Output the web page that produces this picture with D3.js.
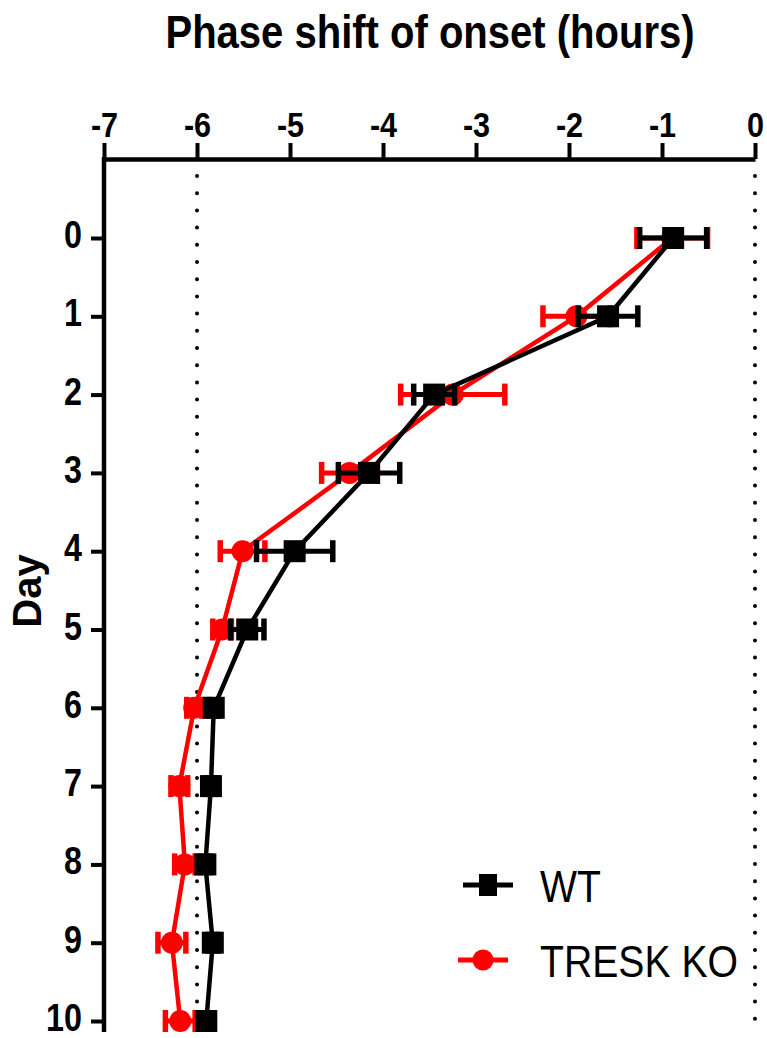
<!DOCTYPE html>
<html>
<head>
<meta charset="utf-8">
<script src="https://cdn.jsdelivr.net/npm/d3@7"></script>
<style>
  body { margin: 0; background: #fff; }
  text { font-family: "Liberation Sans", Arial, sans-serif; }
</style>
</head>
<body>
<div id="chart"></div>
<script>
// days on the vertical axis
const days = [0, 1, 2, 3, 4, 5, 6, 7, 8, 9, 10];
// mean phase shift (hours) and SEM
const wtMean = [-0.88, -1.58, -3.45, -4.15, -4.95, -5.46, -5.82, -5.85, -5.91, -5.83, -5.9];
const wtSem = [0.36, 0.32, 0.22, 0.33, 0.41, 0.18, 0.05, 0.05, 0.05, 0.05, 0.05];
const koMean = [-0.89, -1.92, -3.25, -4.36, -5.51, -5.73, -6.03, -6.19, -6.13, -6.27, -6.18];
const koSem = [0.38, 0.36, 0.56, 0.3, 0.24, 0.1, 0.08, 0.09, 0.11, 0.15, 0.16];
const xTicks = [-7, -6, -5, -4, -3, -2, -1, 0];
const refLines = [-6, 0];

const W = 767, H = 1038;
const axisTop = 159, axisLeft = 104, bottom = 1032;

const svg = d3
  .select("#chart")
  .append("svg")
  .attr("width", W)
  .attr("height", H);

const x = d3.scaleLinear().domain([-7, 0]).range([axisLeft, 755]);
const y = d3.scaleLinear().domain([0, 10]).range([238, 1021]);

// dotted reference lines
svg
  .selectAll(".ref")
  .data(refLines)
  .join("line")
  .attr("x1", (d) => x(d))
  .attr("x2", (d) => x(d))
  .attr("y1", axisTop + 17)
  .attr("y2", bottom)
  .attr("stroke", "black")
  .attr("stroke-width", 4)
  .attr("stroke-linecap", "round")
  .attr("stroke-dasharray", "0 17.2");

// top axis (plain hyphen minus, like the original)
const xAxis = svg
  .append("g")
  .attr("transform", `translate(0,${axisTop})`)
  .call(
    d3.axisTop(x).tickValues(xTicks).tickFormat((d) => String(d))
      .tickSize(16).tickSizeOuter(0).tickPadding(6)
  );

// left axis
const yAxis = svg
  .append("g")
  .attr("transform", `translate(${axisLeft},0)`)
  .call(d3.axisLeft(y).tickValues(days).tickSize(13).tickSizeOuter(0).tickPadding(9));

[xAxis, yAxis].forEach((g) => {
  g.select(".domain").attr("stroke-width", 4.5);
  g.selectAll(".tick line").attr("stroke-width", 4);
  g.selectAll(".tick text")
    .style("font-weight", "bold")
    .attr("fill", "black");
});
// narrow bold figures
xAxis.selectAll(".tick text")
  .style("font-size", "36px")
  .attr("transform", "scale(0.85,1)");
yAxis.selectAll(".tick text")
  .style("font-size", "38px")
  .attr("x", 0)
  .attr("dy", "0.25em")
  .attr("transform", "translate(-22,0) scale(0.85,1)");
// extend vertical axis to meet top axis and run to bottom
yAxis.select(".domain").attr("d", `M0,${axisTop - 2}V${bottom}`);

// axis titles
svg
  .append("text")
  .attr("transform", "translate(430,48) scale(0.87,1)")
  .attr("text-anchor", "middle")
  .style("font-size", "46px")
  .style("font-weight", "bold")
  .text("Phase shift of onset (hours)");

svg
  .append("text")
  .attr("transform", `translate(41,591) rotate(-90)`)
  .attr("text-anchor", "middle")
  .style("font-size", "40px")
  .style("font-weight", "bold")
  .text("Day");

const series = [
  { name: "TRESK KO", mean: koMean, sem: koSem, color: "#ff0000", shape: "circle" },
  { name: "WT", mean: wtMean, sem: wtSem, color: "black", shape: "square" },
];

const line = d3
  .line()
  .x((d) => x(d.v))
  .y((d) => y(d.day));

series.forEach((s) => {
  const pts = days.map((day, i) => ({ day: day, v: s.mean[i], e: s.sem[i] }));
  const g = svg.append("g");

  g.append("path")
    .datum(pts)
    .attr("d", line)
    .attr("fill", "none")
    .attr("stroke", s.color)
    .attr("stroke-width", 4.5);

  // error bars
  const eb = g.selectAll(".eb").data(pts).join("g");
  eb.append("line")
    .attr("x1", (d) => x(d.v - d.e))
    .attr("x2", (d) => x(d.v + d.e))
    .attr("y1", (d) => y(d.day))
    .attr("y2", (d) => y(d.day))
    .attr("stroke", s.color)
    .attr("stroke-width", 5);
  [-1, 1].forEach((sgn) => {
    eb.append("line")
      .attr("x1", (d) => x(d.v + sgn * d.e))
      .attr("x2", (d) => x(d.v + sgn * d.e))
      .attr("y1", (d) => y(d.day) - 11)
      .attr("y2", (d) => y(d.day) + 11)
      .attr("stroke", s.color)
      .attr("stroke-width", 5.5);
  });

  // markers
  if (s.shape === "square") {
    g.selectAll(".m")
      .data(pts)
      .join("rect")
      .attr("x", (d) => x(d.v) - 11)
      .attr("y", (d) => y(d.day) - 11)
      .attr("width", 22)
      .attr("height", 22)
      .attr("fill", s.color);
  } else {
    g.selectAll(".m")
      .data(pts)
      .join("circle")
      .attr("cx", (d) => x(d.v))
      .attr("cy", (d) => y(d.day))
      .attr("r", 11)
      .attr("fill", s.color);
  }
});

// legend
const legendY = [885, 960];
const legendItems = [series[1], series[0]];
const legend = svg.append("g");
legendItems.forEach((s, i) => {
  const ly = legendY[i];
  legend
    .append("line")
    .attr("x1", s.shape === "square" ? 463 : 458)
    .attr("x2", s.shape === "square" ? 513 : 508)
    .attr("y1", ly)
    .attr("y2", ly)
    .attr("stroke", s.color)
    .attr("stroke-width", 5);
  if (s.shape === "square") {
    legend
      .append("rect")
      .attr("x", 479)
      .attr("y", ly - 11)
      .attr("width", 18)
      .attr("height", 22)
      .attr("fill", s.color);
  } else {
    legend
      .append("circle")
      .attr("cx", 483)
      .attr("cy", ly)
      .attr("r", 10.5)
      .attr("fill", s.color);
  }
  legend
    .append("text")
    .attr("transform", `translate(540,${ly + 17}) scale(0.89,1)`)
    .style("font-size", "44px")
    .text(s.name);
});
</script>
</body>
</html>
